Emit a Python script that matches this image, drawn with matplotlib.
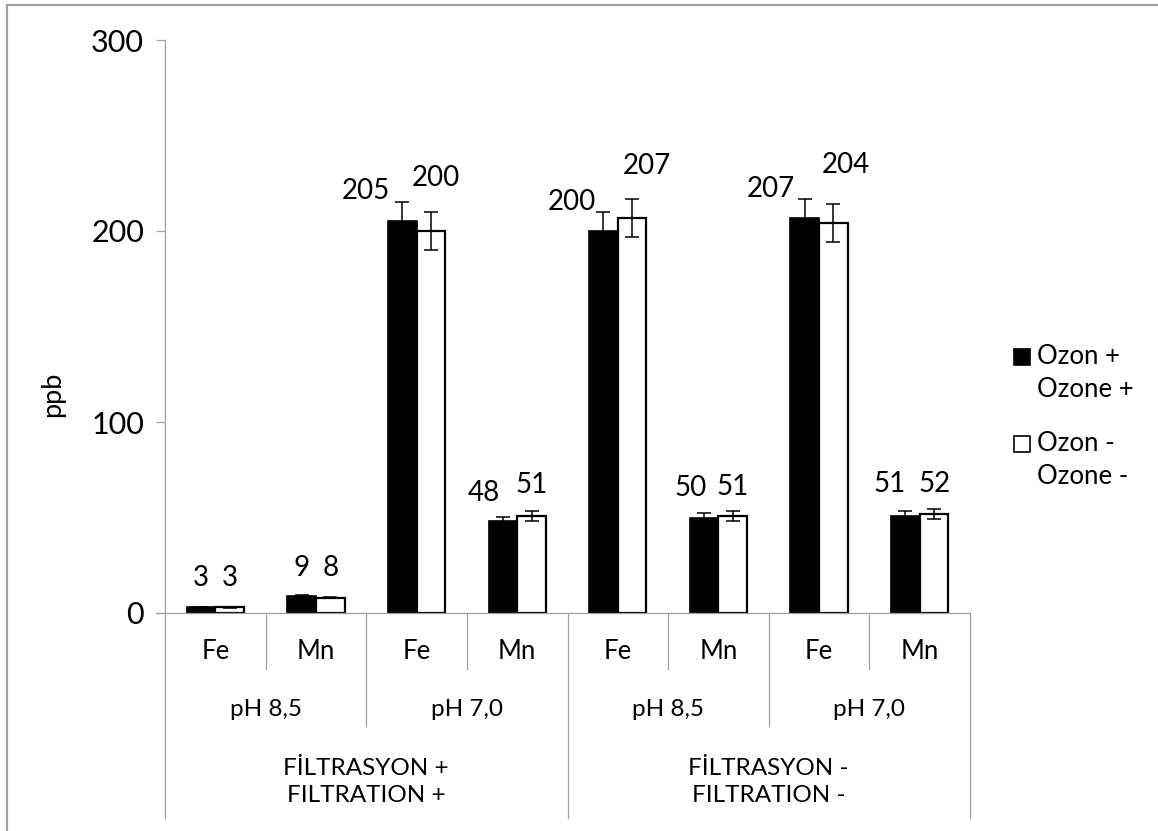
import matplotlib.pyplot as plt
import matplotlib.transforms as mtransforms
from matplotlib.lines import Line2D
from matplotlib.patches import Rectangle
import numpy as np

plt.rcParams['font.family'] = ['Lato', 'DejaVu Sans']

# data
elements = ['Fe', 'Mn', 'Fe', 'Mn', 'Fe', 'Mn', 'Fe', 'Mn']
ph_labels = ['pH 8,5', 'pH 7,0', 'pH 8,5', 'pH 7,0']
filt_labels = ['FİLTRASYON +\nFILTRATION +', 'FİLTRASYON -\nFILTRATION -']
ozon_plus = [3, 9, 205, 48, 200, 50, 207, 51]
ozon_minus = [3, 8, 200, 51, 207, 51, 204, 52]
err_plus = [0.2, 0.5, 10, 2.5, 10, 2.5, 10, 2.6]
err_minus = [0.2, 0.4, 10, 2.6, 10, 2.6, 10, 2.6]
legend_labels = ['Ozon +\nOzone +', 'Ozon -\nOzone -']

# label nudges in pixels (horizontal shift, gap above error bar)
dx_plus = [0, 0, -36, -19, -32, -14, -34, -16]
dx_minus = [0, 0, 5, 0, 15, 0, 12, 0]
gap_plus = [29, 27, 11, 24, 10, 25, 10, 27]
gap_minus = [29, 29, 34, 26, 33, 24, 39, 25]

W, H = 1158, 831
fig = plt.figure(figsize=(W / 100, H / 100), dpi=100)
ax = fig.add_axes([165 / W, (H - 613) / H, (970 - 165) / W, (613 - 40) / H])

grey = '#a0a0a0'
x = np.arange(len(elements))
bw = 0.285

ax.bar(x - bw / 2, ozon_plus, bw, color='black', edgecolor='black', linewidth=1.2, zorder=2)
ax.bar(x + bw / 2, ozon_minus, bw, color='white', edgecolor='black', linewidth=1.6, zorder=2)
ax.errorbar(x - bw / 2, ozon_plus, yerr=err_plus, fmt='none', ecolor='black',
            elinewidth=1.1, capsize=5, capthick=1.1, zorder=3)
ax.errorbar(x + bw / 2, ozon_minus, yerr=err_minus, fmt='none', ecolor='black',
            elinewidth=1.1, capsize=5, capthick=1.1, zorder=3)

px = 0.72
for i in range(len(x)):
    ax.annotate(str(ozon_plus[i]), xy=(x[i] - bw / 2, ozon_plus[i] + err_plus[i]),
                xytext=(dx_plus[i] * px, gap_plus[i] * px), textcoords='offset points',
                ha='center', va='center', fontsize=20)
    ax.annotate(str(ozon_minus[i]), xy=(x[i] + bw / 2, ozon_minus[i] + err_minus[i]),
                xytext=(dx_minus[i] * px, gap_minus[i] * px), textcoords='offset points',
                ha='center', va='center', fontsize=20)

ax.set_xlim(-0.5, 7.5)
ax.set_ylim(0, 300)
ax.set_yticks([0, 100, 200, 300])
ax.tick_params(axis='y', length=6.5, width=0.9, color=grey, pad=8.6, labelsize=22)
ax.set_xticks([])
for s in ['top', 'right', 'bottom']:
    ax.spines[s].set_visible(False)
ax.spines['left'].set_color(grey)
ax.spines['left'].set_linewidth(0.9)

# multi-level category axis
trans = mtransforms.blended_transform_factory(ax.transData, ax.transAxes)
ax.add_line(Line2D([-0.5 - 9 / 100.6, 7.5], [0, 0], transform=trans, color=grey,
                   lw=0.9, clip_on=False))
for xs, y0 in [([0.5, 2.5, 4.5, 6.5], -0.098), ([1.5, 5.5], -0.197), ([-0.5, 3.5, 7.5], -0.358)]:
    for xv in xs:
        ax.add_line(Line2D([xv, xv], [0, y0], transform=trans, color=grey, lw=0.9, clip_on=False))

for i, e in enumerate(elements):
    ax.text(i, -0.068, e, transform=trans, ha='center', va='center', fontsize=18.5)
for i, p in enumerate(ph_labels):
    ax.text(2 * i + 0.5, -0.169, p, transform=trans, ha='center', va='center', fontsize=17.5)
for i, f in enumerate(filt_labels):
    ax.text(4 * i + 1.5, -0.295, f, transform=trans, ha='center', va='center', fontsize=17.5,
            linespacing=1.35)

fig.text(53 / W, (H - 394) / H, 'ppb', rotation=90, ha='center', va='center', fontsize=19.5)

# legend
for j, (fc, lab) in enumerate(zip(['black', 'white'], legend_labels)):
    yc = [357, 444][j]
    fig.add_artist(Rectangle((1014 / W, (H - yc - 8) / H), 16 / W, 16 / H, transform=fig.transFigure,
                             facecolor=fc, edgecolor='black', linewidth=1.2))
    fig.text(1037 / W, (H - yc + 13) / H, lab, ha='left', va='top', fontsize=18.5, linespacing=1.4)

# chart border
fig.add_artist(Line2D([7 / W, 7 / W], [0, (H - 5) / H], transform=fig.transFigure, color=grey, lw=1.5))
fig.add_artist(Line2D([7 / W, 1], [(H - 5) / H, (H - 5) / H], transform=fig.transFigure, color=grey, lw=1.5))

fig.savefig('out.png', dpi=100)
